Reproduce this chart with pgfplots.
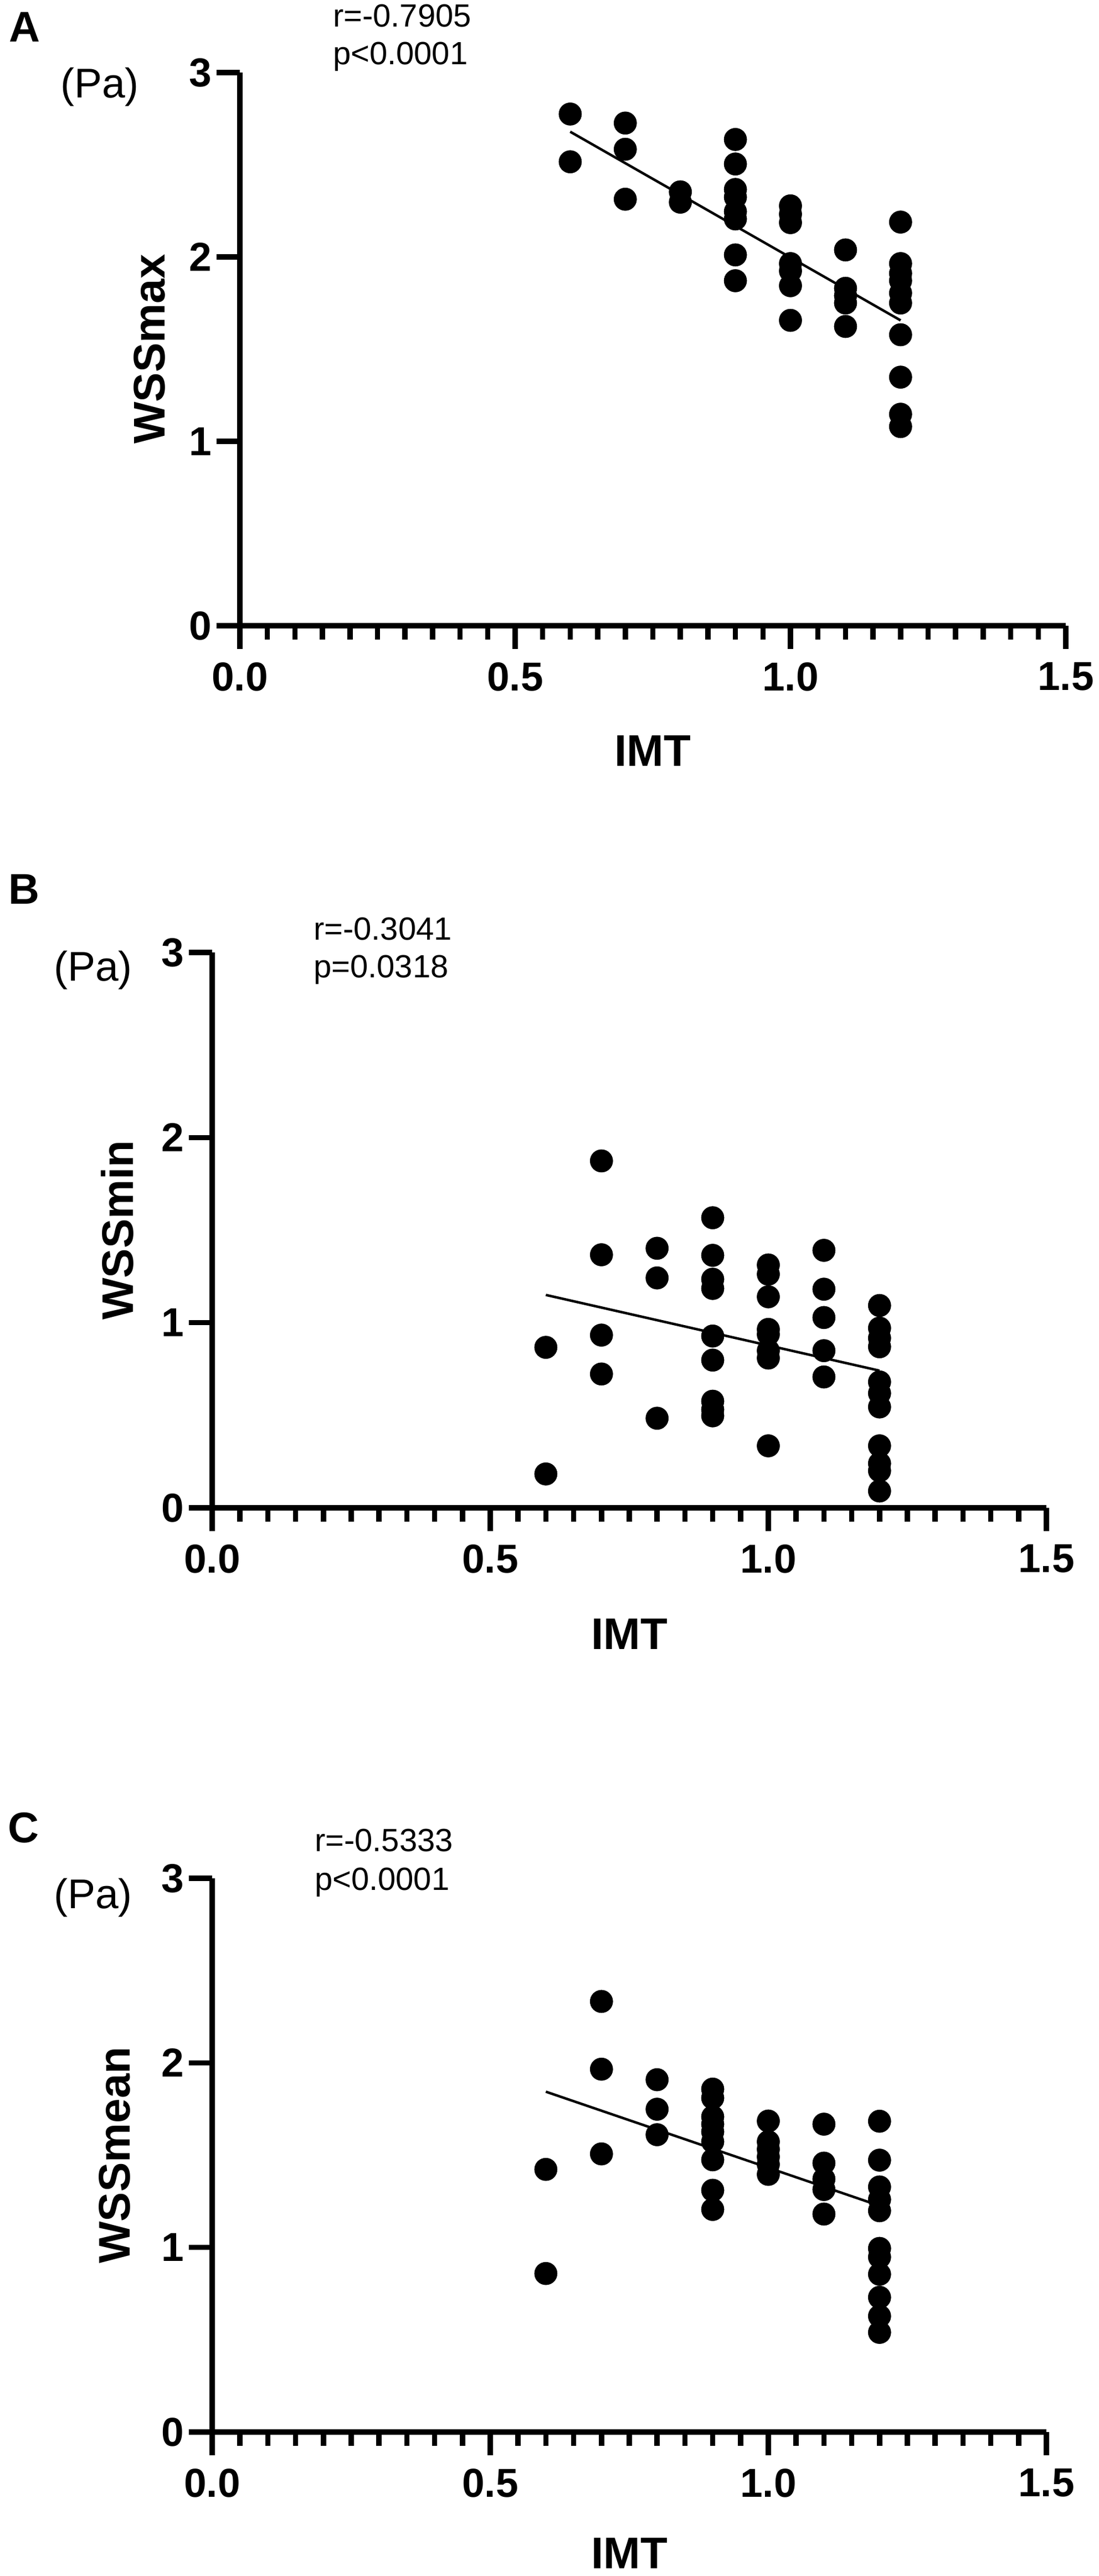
\documentclass[border=0pt]{standalone}
\usepackage{fontspec}
\setmainfont{Liberation Sans}
\usepackage{pgfplots}
\pgfplotsset{compat=1.18}
\pgfplotsset{
  panel/.style={
    scale only axis,
    anchor=south west,
    xmin=0, xmax=1.5, ymin=0, ymax=3,
    axis x line*=bottom, axis y line*=left,
    axis line style={line width=2pt, black},
    xtick={0,0.5,1,1.5}, xticklabels={0.0,0.5,1.0,1.5},
    ytick={0,1,2,3}, yticklabels={0,1,2,3},
    minor x tick num=9,
    tick align=outside,
    major tick length=8.4pt, minor tick length=5pt,
    every tick/.style={line width=1.9pt, black},
    ticklabel style={font=\fontsize{14.6pt}{17pt}\selectfont\bfseries},
    xticklabel style={yshift=-1.3pt},
    yticklabel style={xshift=1.7pt},
    /pgf/number format/assume math mode=true,
    clip=false,
  },
  dots/.style={only marks, mark=*, mark size=4.1pt, mark options={fill=black, draw=black, line width=0.1pt}},
  fit/.style={no markers, black, line width=0.9pt},
}
\newcommand{\lab}{\fontsize{16pt}{19pt}\selectfont\bfseries}
\newcommand{\stat}{\fontsize{11.6pt}{14pt}\selectfont}
\newcommand{\unitf}{\fontsize{15pt}{18pt}\selectfont}
\newcommand{\panelf}{\fontsize{15.5pt}{18pt}\selectfont\bfseries}
\begin{document}
\begin{tikzpicture}
\useasboundingbox (0,0) rectangle (396.6pt,-930.4pt);

% ---------- Panel A ----------
\begin{axis}[panel, at={(86.6pt,-226pt)}, width=298.2pt, height=199.8pt]
\addplot[dots] coordinates {
(0.6,2.775)(0.6,2.516)
(0.7,2.726)(0.7,2.584)(0.7,2.313)
(0.8,2.353)(0.8,2.297)
(0.9,2.637)(0.9,2.504)(0.9,2.366)(0.9,2.324)(0.9,2.246)(0.9,2.206)(0.9,2.011)(0.9,1.871)
(1.0,2.277)(1.0,2.232)(1.0,2.186)(1.0,1.964)(1.0,1.924)(1.0,1.844)(1.0,1.656)
(1.1,2.038)(1.1,1.830)(1.1,1.790)(1.1,1.750)(1.1,1.623)
(1.2,2.189)(1.2,1.964)(1.2,1.911)(1.2,1.871)(1.2,1.804)(1.2,1.750)(1.2,1.578)(1.2,1.348)(1.2,1.147)(1.2,1.080)
};
\addplot[fit] coordinates {(0.6,2.679) (1.2,1.656)};
\end{axis}
\node[anchor=base west, inner sep=0pt, font=\panelf] at (3.2pt,-15.2pt) {A};
\node[anchor=base west, inner sep=0pt, font=\stat] at (120pt,-9.8pt) {r=-0.7905};
\node[anchor=base west, inner sep=0pt, font=\stat] at (120pt,-23.4pt) {p<0.0001};
\node[inner sep=0pt, font=\unitf] at (36pt,-31.4pt) {(Pa)};
\node[rotate=90, anchor=base, inner sep=0pt, font=\lab] at (59.4pt,-126.1pt) {WSSmax};
\node[anchor=base, inner sep=0pt, font=\lab] at (235.7pt,-276.6pt) {IMT};

% ---------- Panel B ----------
\begin{axis}[panel, at={(76.6pt,-544.6pt)}, width=301.2pt, height=200.6pt]
\addplot[dots] coordinates {
(0.6,0.867)(0.6,0.183)
(0.7,1.874)(0.7,1.367)(0.7,0.933)(0.7,0.723)
(0.8,1.402)(0.8,1.242)(0.8,0.484)
(0.9,1.567)(0.9,1.364)(0.9,1.235)(0.9,1.185)(0.9,0.928)(0.9,0.798)(0.9,0.576)(0.9,0.531)(0.9,0.497)
(1.0,1.312)(1.0,1.262)(1.0,1.140)(1.0,0.964)(1.0,0.937)(1.0,0.849)(1.0,0.809)(1.0,0.335)
(1.1,1.391)(1.1,1.181)(1.1,1.028)(1.1,0.849)(1.1,0.707)
(1.2,1.093)(1.2,0.971)(1.2,0.917)(1.2,0.870)(1.2,0.680)(1.2,0.619)(1.2,0.545)(1.2,0.335)(1.2,0.240)(1.2,0.200)(1.2,0.091)
};
\addplot[fit] coordinates {(0.6,1.150) (1.2,0.741)};
\end{axis}
\node[anchor=base west, inner sep=0pt, font=\panelf] at (2.8pt,-326.4pt) {B};
\node[anchor=base west, inner sep=0pt, font=\stat] at (113pt,-339.4pt) {r=-0.3041};
\node[anchor=base west, inner sep=0pt, font=\stat] at (113pt,-353pt) {p=0.0318};
\node[inner sep=0pt, font=\unitf] at (33.6pt,-350.4pt) {(Pa)};
\node[rotate=90, anchor=base, inner sep=0pt, font=\lab] at (48pt,-444.3pt) {WSSmin};
\node[anchor=base, inner sep=0pt, font=\lab] at (227.2pt,-595.6pt) {IMT};

% ---------- Panel C ----------
\begin{axis}[panel, at={(76.6pt,-878.4pt)}, width=301.2pt, height=200pt]
\addplot[dots] coordinates {
(0.6,1.423)(0.6,0.859)
(0.7,2.333)(0.7,1.966)(0.7,1.507)
(0.8,1.909)(0.8,1.749)(0.8,1.611)
(0.9,1.858)(0.9,1.810)(0.9,1.708)(0.9,1.668)(0.9,1.627)(0.9,1.573)(0.9,1.475)(0.9,1.310)(0.9,1.206)
(1.0,1.685)(1.0,1.573)(1.0,1.532)(1.0,1.491)(1.0,1.450)(1.0,1.396)
(1.1,1.668)(1.1,1.457)(1.1,1.371)(1.1,1.314)(1.1,1.181)
(1.2,1.684)(1.2,1.473)(1.2,1.328)(1.2,1.260)(1.2,1.199)(1.2,0.995)(1.2,0.948)(1.2,0.855)(1.2,0.730)(1.2,0.628)(1.2,0.540)
};
\addplot[fit] coordinates {(0.6,1.844) (1.2,1.226)};
\end{axis}
\node[anchor=base west, inner sep=0pt, font=\panelf] at (2.6pt,-665.4pt) {C};
\node[anchor=base west, inner sep=0pt, font=\stat] at (113.4pt,-668.6pt) {r=-0.5333};
\node[anchor=base west, inner sep=0pt, font=\stat] at (113.4pt,-682.6pt) {p<0.0001};
\node[inner sep=0pt, font=\unitf] at (33.6pt,-685.4pt) {(Pa)};
\node[rotate=90, anchor=base, inner sep=0pt, font=\lab] at (46.8pt,-778.4pt) {WSSmean};
\node[anchor=base, inner sep=0pt, font=\lab] at (227.2pt,-927.6pt) {IMT};
\end{tikzpicture}
\end{document}
